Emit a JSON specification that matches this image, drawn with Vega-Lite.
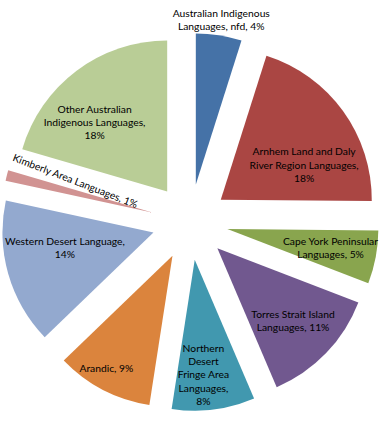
{
  "$schema": "https://vega.github.io/schema/vega-lite/v6.json",
  "width": 386,
  "height": 423,
  "autosize": "none",
  "padding": 0,
  "background": "white",
  "config": {"view": {"stroke": null}, "text": {"font": "Lato", "fontSize": 10.3, "lineHeight": 13.3, "color": "#000000"}},
  "data": {"values": [
    {"k": "nfd", "name": "Australian Indigenous Languages, nfd", "value": 4.3, "label": ["Australian Indigenous", "Languages, nfd, 4%"]},
    {"k": "arnhem", "name": "Arnhem Land and Daly River Region Languages", "value": 17.8, "label": ["Arnhem Land and Daly", "River Region Languages,", "18%"]},
    {"k": "cape", "name": "Cape York Peninsular Languages", "value": 5.0, "label": ["Cape York Peninsular", "Languages, 5%"]},
    {"k": "torres", "name": "Torres Strait Island Languages", "value": 11.2, "label": ["Torres Strait Island", "Languages, 11%"]},
    {"k": "northern", "name": "Northern Desert Fringe Area Languages", "value": 7.8, "label": ["Northern", "Desert", "Fringe Area", "Languages,", "8%"]},
    {"k": "arandic", "name": "Arandic", "value": 9.1, "label": ["Arandic, 9%"]},
    {"k": "western", "name": "Western Desert Language", "value": 13.7, "label": ["Western Desert Language,", "14%"]},
    {"k": "kimberly", "name": "Kimberly Area Languages", "value": 1.0, "label": "Kimberly Area Languages, 1%"},
    {"k": "other", "name": "Other Australian Indigenous Languages", "value": 18.0, "label": ["Other Australian", "Indigenous Languages,", "18%"]}
  ]},
  "transform": [
    {"joinaggregate": [{"op": "sum", "field": "value", "as": "total"}]},
    {"window": [{"op": "sum", "field": "value", "as": "cumEnd"}], "frame": [null, 0]},
    {"calculate": "(datum.cumEnd - datum.value) / datum.total", "as": "a0"},
    {"calculate": "datum.cumEnd / datum.total", "as": "a1"},
    {"calculate": "(datum.a0 + datum.a1) / 2", "as": "am"},
    {"calculate": "sin(2 * PI * datum.am)", "as": "ex"},
    {"calculate": "cos(2 * PI * datum.am)", "as": "ey"}
  ],
  "encoding": {
    "x": {"field": "ex", "type": "quantitative", "stack": null, "axis": null, "scale": {"domain": [-5.0, 5.158], "nice": false, "zero": false}},
    "y": {"field": "ey", "type": "quantitative", "stack": null, "axis": null, "scale": {"domain": [-5.289, 5.842], "nice": false, "zero": false}}
  },
  "layer": [
    {
      "mark": {"type": "arc", "radius": 151, "stroke": null},
      "encoding": {
        "theta": {"field": "a0", "type": "quantitative", "stack": null, "scale": {"domain": [0, 1], "nice": false}},
        "theta2": {"field": "a1"},
        "color": {"field": "name", "type": "nominal", "legend": null, "sort": null,
          "scale": {"domain": ["Australian Indigenous Languages, nfd", "Arnhem Land and Daly River Region Languages", "Cape York Peninsular Languages", "Torres Strait Island Languages", "Northern Desert Fringe Area Languages", "Arandic", "Western Desert Language", "Kimberly Area Languages", "Other Australian Indigenous Languages"],
                    "range": ["#4572A7", "#AA4643", "#89A54E", "#71588F", "#4198AF", "#DB843D", "#93A9CF", "#D19392", "#B9CD96"]}}
      }
    },
    {
      "transform": [{"filter": "indexof(['cape','torres'], datum.k) >= 0"}],
      "mark": {"type": "text", "radius": 105, "dy": -6.7, "align": "center", "baseline": "middle"},
      "encoding": {"theta": {"field": "am", "type": "quantitative", "stack": null}, "text": {"field": "label"}}
    },
    {
      "transform": [{"filter": "datum.k === 'northern'"}],
      "mark": {"type": "text", "radius": 116, "thetaOffset": 0.05, "dy": -26.6, "align": "center", "baseline": "middle"},
      "encoding": {"theta": {"field": "am", "type": "quantitative", "stack": null}, "text": {"field": "label"}}
    },
    {
      "transform": [{"filter": "datum.k === 'western'"}],
      "mark": {"type": "text", "radius": 90, "thetaOffset": 0.093, "dy": -6.7, "align": "center", "baseline": "middle"},
      "encoding": {"theta": {"field": "am", "type": "quantitative", "stack": null}, "text": {"field": "label"}}
    },
    {
      "transform": [{"filter": "datum.k === 'arnhem'"}],
      "mark": {"type": "text", "radius": 90, "thetaOffset": 0.24, "dy": -13.3, "align": "center", "baseline": "middle"},
      "encoding": {"theta": {"field": "am", "type": "quantitative", "stack": null}, "text": {"field": "label"}}
    },
    {
      "transform": [{"filter": "datum.k === 'other'"}],
      "mark": {"type": "text", "radius": 100, "thetaOffset": -0.17, "dy": -13.3, "align": "center", "baseline": "middle"},
      "encoding": {"theta": {"field": "am", "type": "quantitative", "stack": null}, "text": {"field": "label"}}
    },
    {
      "transform": [{"filter": "datum.k === 'arandic'"}],
      "mark": {"type": "text", "radius": 131, "thetaOffset": 0.05, "align": "center", "baseline": "middle"},
      "encoding": {"theta": {"field": "am", "type": "quantitative", "stack": null}, "text": {"field": "label"}}
    },
    {
      "transform": [{"filter": "datum.k === 'nfd'"}],
      "mark": {"type": "text", "radius": 166, "dy": -6.7, "align": "center", "baseline": "middle"},
      "encoding": {"theta": {"field": "am", "type": "quantitative", "stack": null}, "text": {"field": "label"}}
    },
    {
      "transform": [{"filter": "datum.k === 'kimberly'"}],
      "mark": {"type": "text", "radius": 84, "thetaOffset": 0.13, "angle": 21, "align": "center", "baseline": "middle"},
      "encoding": {"theta": {"field": "am", "type": "quantitative", "stack": null}, "text": {"field": "label"}}
    }
  ]
}
